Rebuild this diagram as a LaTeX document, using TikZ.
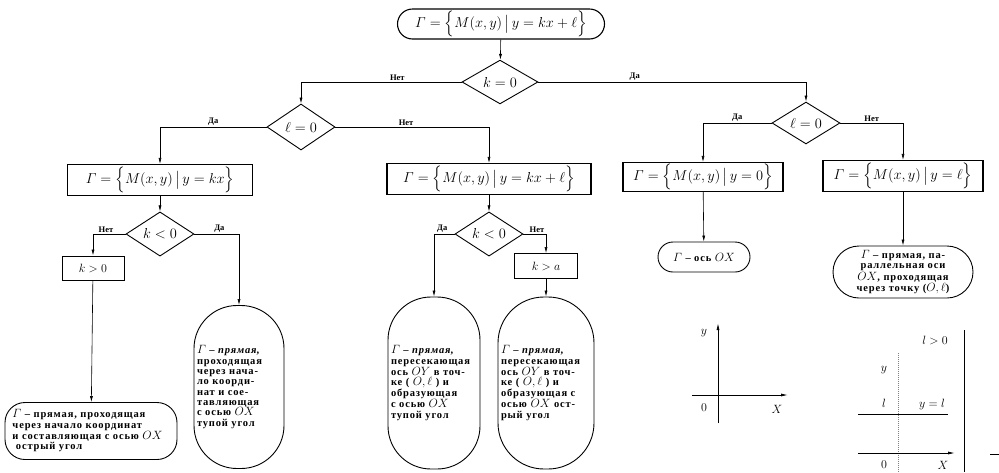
\documentclass[tikz,border=0pt]{standalone}
\usepackage{amsmath}
\usepackage[no-math]{fontspec}
\setmainfont{Liberation Serif}
\usetikzlibrary{shapes.geometric,arrows.meta}
\newcommand{\axm}[1]{{\fontsize{12}{10}\selectfont$#1$}}
\tikzset{
  decision/.style={diamond, draw, line width=0.9pt, inner sep=0pt, font=\fontsize{14}{16}\selectfont},
  formula/.style={rectangle, draw, line width=1.1pt, inner sep=1pt, font=\fontsize{14}{15}\selectfont},
  pill/.style={rectangle, draw, line width=0.9pt, inner sep=3pt, align=left, font=\bfseries\fontsize{10.5}{10.3}\selectfont\addfontfeatures{LetterSpace=8}},
  yesno/.style={font=\bfseries\fontsize{8.5}{9}\selectfont, above, inner sep=1.5pt},
  flow/.style={-{Latex[length=6pt,width=3pt]}, line width=0.6pt},
  axislbl/.style={font=\fontsize{13}{13}\selectfont, inner sep=1pt},
}
\begin{document}
\begin{tikzpicture}[x=1pt,y=-1pt]
\useasboundingbox (0,0) rectangle (999,472);
% top of the scheme
\node [formula, rounded corners=15pt, minimum width=207pt, minimum height=30pt] (top) at (501,24) {$\varGamma=\Big\{M(x,y)\,\big|\,y=kx+\ell\Big\}$};
\node [decision, minimum width=76pt, minimum height=42pt] (k0) at (500,82) {$k=0$};
\node [decision, minimum width=68pt, minimum height=46pt] (l0a) at (301,127) {$\ell=0$};
\node [decision, minimum width=68pt, minimum height=40pt] (l0b) at (806,123) {$\ell=0$};
% sets
\node [formula, minimum width=185pt, minimum height=31pt] (boxkx) at (160,180) {$\varGamma=\Big\{M(x,y)\,\big|\,y=kx\Big\}$};
\node [formula, minimum width=204pt, minimum height=31pt] (boxkxl) at (489,179) {$\varGamma=\Big\{M(x,y)\,\big|\,y=kx+\ell\Big\}$};
\node [formula, minimum width=160pt, minimum height=29pt] (box0) at (703,177) {$\varGamma=\Big\{M(x,y)\,\big|\,y=0\Big\}$};
\node [formula, minimum width=160pt, minimum height=31pt] (boxl) at (903,176) {$\varGamma=\Big\{M(x,y)\,\big|\,y=\ell\Big\}$};
% sign of k
\node [decision, minimum width=68pt, minimum height=43pt] (k1) at (160,234) {$k<0$};
\node [decision, minimum width=68pt, minimum height=42pt] (k2) at (489,234) {$k<0$};
\node [formula, line width=0.9pt, font=\fontsize{13}{14}\selectfont, minimum width=62pt, minimum height=24pt] (kpos1) at (93,268) {$k>0$};
\node [formula, line width=0.9pt, font=\fontsize{13}{14}\selectfont, minimum width=63pt, minimum height=25pt] (kpos2) at (546,266) {$k>a$};
% answers
\node [pill, rounded corners=20pt, text width=157pt, minimum width=172pt, minimum height=57pt] (end1) at (91,431)
  {\axm{\varGamma} -- прямая, проходящая\\ через начало координат\\ и составляющая с осью \axm{OX}\\ \ острый угол};
\node [pill, rounded corners=43pt, text width=84pt, minimum width=88pt, minimum height=163pt] (end2) at (239,387)
  {\axm{\varGamma} -- \textit{прямая},\\ проходящая\\ через нача-\\ ло коорди-\\ нат и сое-\\ тавляющая\\ с осью \axm{OX}\\ тупой угол\\[16pt]};
\node [pill, rounded corners=43pt, text width=86pt, minimum width=88pt, minimum height=172pt] (end3) at (434,383)
  {\axm{\varGamma} -- \textit{прямая},\\ пересекающая\\ ось \axm{OY} в точ-\\ ке ( \axm{O,\ell} ) и\\ образующая\\ с осью \axm{OX}\\ тупой угол\\[24pt]};
\node [pill, rounded corners=46pt, text width=90pt, minimum width=94pt, minimum height=172pt] (end4) at (546,383)
  {\axm{\varGamma} -- \textit{прямая},\\ пересекающая\\ ось \axm{OY} в точ-\\ ке ( \axm{O,\ell} ) и\\ образующая с\\ осью \axm{OX} ост-\\ рый угол\\[24pt]};
\node [pill, rounded corners=15pt, minimum width=92pt, minimum height=30pt] (end5) at (704,257)
  {\axm{\varGamma} -- ось \axm{OX}};
\node [pill, align=center, rounded corners=26pt, text width=132pt, minimum width=140pt, minimum height=52pt] (end6) at (903,272)
  {\axm{\varGamma} -- прямая, па-\\ раллельная оси\\ \axm{OX}, проходящая\\ через точку (\axm{O,\ell})};
% connectors
\draw [flow] (top) -- (k0);
\draw [flow] (k0.west) -| node [yesno, pos=0.2] {Нет} (l0a.north);
\draw [flow] (k0.east) -| node [yesno, pos=0.18] {Да} (l0b.north);
\draw [flow] (l0a.west) -| node [yesno, pos=0.25] {Да} (boxkx.north);
\draw [flow] (l0a.east) -| node [yesno, pos=0.23] {Нет} (boxkxl.north);
\draw [flow] (l0b.west) -| node [yesno, pos=0.25] {Да} (box0.north);
\draw [flow] (l0b.east) -| node [yesno, pos=0.25] {Нет} (boxl.north);
\draw [flow] (boxkx) -- (k1);
\draw [flow] (boxkxl) -- (k2);
\draw [flow] (box0) -- (end5);
\draw [flow] (boxl) -- (end6);
\draw [flow] (k1.west) -| node [yesno, pos=0.3] {Нет} (kpos1.north);
\draw [flow] (k1.east) -| node [yesno, pos=0.28] {Да} (end2.north);
\draw [flow] (kpos1) -- (end1);
\draw [flow] (k2.west) -| node [yesno, pos=0.3] {Да} (end3.north);
\draw [flow] (k2.east) -| node [yesno, pos=0.3] {Нет} (kpos2.north);
\draw [flow] (kpos2) -- (end4);
% axes, y = 0
\draw [-{Latex[length=7pt,width=3pt]}, line width=0.8pt] (718,423) -- (718,323);
\draw [-{Latex[length=7pt,width=3pt]}, line width=0.8pt] (692,395) -- (788,395);
\node [axislbl] (ya) at (704,333) {$y$};
\node [axislbl] (oa) at (704,408) {$0$};
\node [axislbl] (xa) at (777,409) {$X$};
% axes, y = l
\draw [gray, densely dotted, line width=1pt] (898,472) -- (898,352);
\draw [line width=0.8pt] (858,414) -- (948,414);
\draw [-{Latex[length=7pt,width=3pt]}, line width=0.8pt] (858,453) -- (955,453);
\node [axislbl] (lpos) at (935,340) {$l>0$};
\node [axislbl] (yb) at (884,370) {$y$};
\node [axislbl] (lb) at (884,403) {$l$};
\node [axislbl] (yl) at (932,404) {$y=l$};
\node [axislbl] (ob) at (884,465) {$0$};
\node [axislbl] (xb) at (943,465) {$X$};
\draw [line width=1pt] (964,330) -- (964,472);
\draw [line width=0.8pt] (990,454) -- (999,454);
\end{tikzpicture}
\end{document}
